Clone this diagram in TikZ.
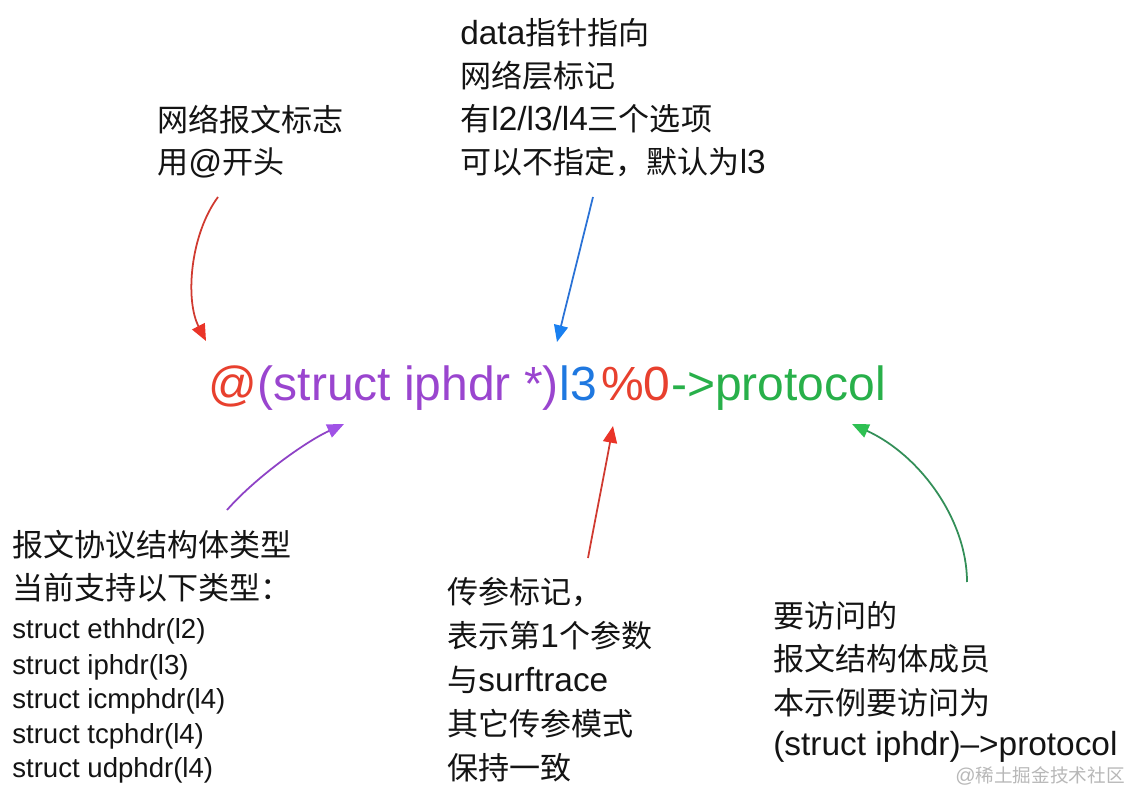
\documentclass[tikz,border=0pt]{standalone}
\usepackage{fontspec}
\setmainfont{Liberation Sans}
\newfontfamily\cjk[Scale=0.93]{Noto Sans CJK SC}
\usetikzlibrary{arrows.meta}
\definecolor{ink}{HTML}{141414}
\definecolor{fred}{HTML}{E8402E}
\definecolor{fpurple}{HTML}{9A45CF}
\definecolor{fblue}{HTML}{1F78E0}
\definecolor{fgreen}{HTML}{28B04A}
\definecolor{lred}{HTML}{D03A30}
\definecolor{hred}{HTML}{EA3428}
\definecolor{lblue}{HTML}{2A72D6}
\definecolor{hblue}{HTML}{1A80F0}
\definecolor{lpurple}{HTML}{8E42C6}
\definecolor{hpurple}{HTML}{A052E6}
\definecolor{lgreen}{HTML}{338F58}
\definecolor{hgreen}{HTML}{2EC052}
\definecolor{wm}{HTML}{B8B8B8}
\newcommand\zh[1]{{\cjk #1}}
\begin{document}
\begin{tikzpicture}[x=0.02cm,y=-0.02cm,
  txt/.style={anchor=base west,inner sep=0pt,text=ink,font=\fontsize{19pt}{23pt}\selectfont},
  sml/.style={txt,font=\fontsize{15.7pt}{19pt}\selectfont},
  fml/.style={anchor=base west,inner sep=0pt,font=\fontsize{27.3pt}{32pt}\selectfont},
  arr/.style={line width=1pt},
  tipred/.style={-{Triangle[length=9.5pt,width=8pt,color=hred]}},
  tipblue/.style={-{Triangle[length=9.5pt,width=8pt,color=hblue]}},
  tippurple/.style={-{Triangle[length=9.5pt,width=8pt,color=hpurple]}},
  tipgreen/.style={-{Triangle[length=9.5pt,width=8pt,color=hgreen]}},
]
\useasboundingbox[fill=white] (0,0) rectangle (1138,800);

% central expression
\node[fml,text=fred] (f1) at (208,400) {@};
\node[fml,text=fpurple] (f2) at (f1.base east) {(struct iphdr *)};
\node[fml,text=fblue] (f3) at (f2.base east) {l3};
\node[fml,text=fred] (f4) at ([xshift=2pt]f3.base east) {\%0};
\node[fml,text=fgreen] (f5) at (f4.base east) {->protocol};

% top left
\node[txt] (tl1) at (157,132) {\zh{网络报文标志}};
\node[txt] (tl2) at (157,174) {\zh{用}@\zh{开头}};

% top middle
\node[txt] (tm1) at (460,45) {data\zh{指针指向}};
\node[txt] (tm2) at (460,88) {\zh{网络层标记}};
\node[txt] (tm3) at (460,131) {\zh{有}l2/l3/l4\zh{三个选项}};
\node[txt] (tm4) at (460,174) {\zh{可以不指定，默认为}l3};

% bottom left
\node[txt] (bl1) at (12,556) {\zh{报文协议结构体类型}};
\node[txt] (bl2) at (12,599) {\zh{当前支持以下类型：}};
\node[sml] (bl3) at (12,638) {struct ethhdr(l2)};
\node[sml] (bl4) at (12,674) {struct iphdr(l3)};
\node[sml] (bl5) at (12,708) {struct icmphdr(l4)};
\node[sml] (bl6) at (12,743) {struct tcphdr(l4)};
\node[sml] (bl7) at (12,777) {struct udphdr(l4)};

% bottom middle
\node[txt] (bm1) at (447,603) {\zh{传参标记，}};
\node[txt] (bm2) at (447,647) {\zh{表示第}1\zh{个参数}};
\node[txt] (bm3) at (447,691) {\zh{与}surftrace};
\node[txt] (bm4) at (447,735) {\zh{其它传参模式}};
\node[txt] (bm5) at (447,779) {\zh{保持一致}};

% bottom right
\node[txt] (br1) at (773,627) {\zh{要访问的}};
\node[txt] (br2) at (773,670) {\zh{报文结构体成员}};
\node[txt] (br3) at (773,714) {\zh{本示例要访问为}};
\node[txt] (br4) at (773,755) {(struct iphdr)–>protocol};

% watermark
\node[anchor=base west,inner sep=0pt,text=wm,font=\fontsize{11.4pt}{14pt}\selectfont] (wm) at (955,782) {@\zh{稀土掘金技术社区}};

% arrow end points
\coordinate (a1s) at (218,197); \coordinate (a1t) at (206,341);
\coordinate (a2s) at (593,197); \coordinate (a2t) at (557,342);
\coordinate (a3s) at (227,510); \coordinate (a3t) at (344,424);
\coordinate (a4s) at (588,558); \coordinate (a4t) at (613,426);
\coordinate (a5s) at (967,582); \coordinate (a5t) at (852,424);

\draw[arr,lred,tipred] (a1s) .. controls (190,235) and (185,300) .. (a1t);
\draw[arr,lblue,tipblue] (a2s) -- (a2t);
\draw[arr,lpurple,tippurple] (a3s) .. controls (255,478) and (305,442) .. (a3t);
\draw[arr,lred,tipred] (a4s) .. controls (596,515) and (605,470) .. (a4t);
\draw[arr,lgreen,tipgreen] (a5s) .. controls (967,520) and (920,455) .. (a5t);
\end{tikzpicture}
\end{document}
